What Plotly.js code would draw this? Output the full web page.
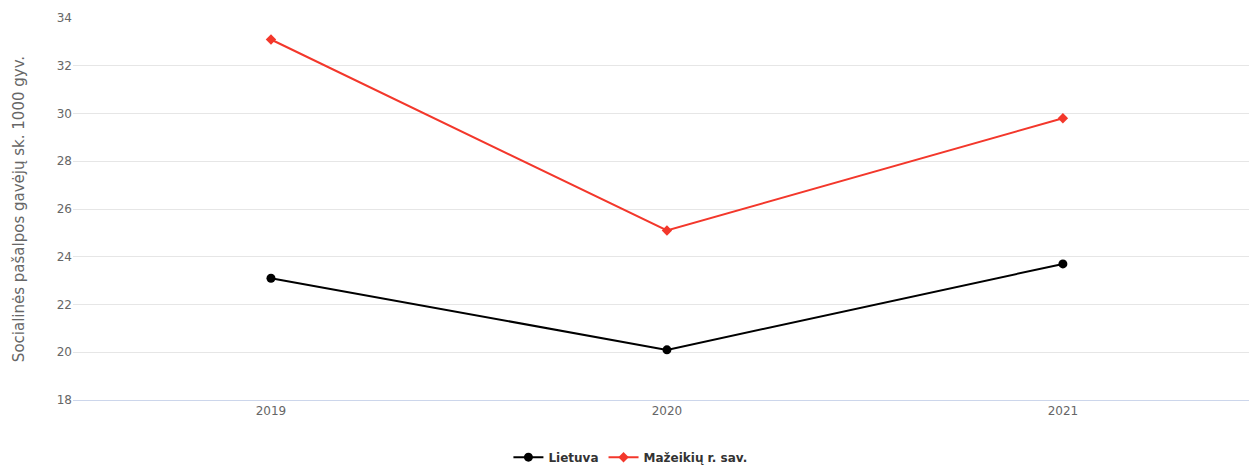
<!DOCTYPE html>
<html><head><meta charset="utf-8">
<script src="https://cdn.plot.ly/plotly-3.0.1.min.js"></script>
<style>html,body{margin:0;padding:0;background:#fff;}#c{width:1249px;height:467px;}</style>
</head><body><div id="c"></div>
<script>
const years = ['2019', '2020', '2021'];
const lietuva = [23.1, 20.1, 23.7];
const mazeikiai = [33.1, 25.1, 29.8];
const seriesNames = ['Lietuva', 'Mažeikių r. sav.'];
const yTitle = 'Socialinės pašalpos gavėjų sk. 1000 gyv.';
const yTicks = [18, 20, 22, 24, 26, 28, 30, 32, 34];

const font = '"DejaVu Sans", sans-serif';
const traces = [
  {x: years, y: lietuva, name: seriesNames[0], type: 'scatter', mode: 'lines+markers',
   line: {color: '#000000', width: 2}, marker: {symbol: 'circle', size: 9, color: '#000000'}},
  {x: years, y: mazeikiai, name: seriesNames[1], type: 'scatter', mode: 'lines+markers',
   line: {color: '#f3372b', width: 2}, marker: {symbol: 'diamond', size: 8, color: '#f3372b'}}
];
const layout = {
  width: 1249, height: 467,
  margin: {l: 73, r: 0, t: 18, b: 67},
  paper_bgcolor: '#fff', plot_bgcolor: '#fff',
  font: {family: font, color: '#666', size: 12},
  showlegend: true,
  legend: {orientation: 'h', x: 0.474, xanchor: 'center', yref: 'container', y: 0.021, yanchor: 'middle',
           font: {family: font, size: 12, color: '#333', weight: 'bold'}, itemwidth: 30},
  xaxis: {type: 'category', range: [-0.5, 2.47], showgrid: false, zeroline: false,
          showline: true, linecolor: '#ccd6eb', linewidth: 1, ticks: '', automargin: false,
          tickfont: {size: 12, color: '#666'}},
  yaxis: {range: [18, 34], tickvals: yTicks, showgrid: true, gridcolor: '#e6e6e6', gridwidth: 1,
          zeroline: false, showline: false, ticks: '', automargin: false,
          tickfont: {size: 12, color: '#666'},
          title: {text: yTitle, font: {size: 15, color: '#666'}, standoff: 28}}
};
Plotly.newPlot('c', traces, layout, {displayModeBar: false, staticPlot: true});
</script></body></html>
